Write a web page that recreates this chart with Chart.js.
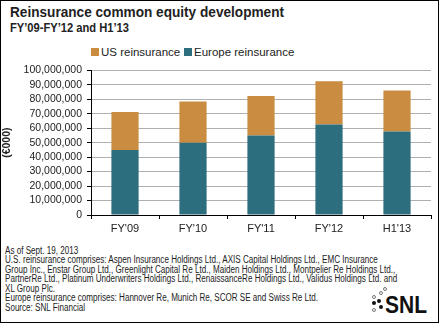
<!DOCTYPE html>
<html><head><meta charset="utf-8">
<script src="https://cdn.jsdelivr.net/npm/chart.js@4.4.0/dist/chart.umd.min.js"></script>
<style>
html,body{margin:0;padding:0;background:#fff;}
#frame{position:relative;width:439px;height:323px;box-sizing:border-box;border:1px solid #000;overflow:hidden;font-family:"Liberation Sans",Arial,sans-serif;}
#title{position:absolute;left:9px;top:2px;font:bold 15.5px "Liberation Sans",Arial,sans-serif;color:#222;white-space:nowrap;transform-origin:0 0;}
#sub{position:absolute;left:9px;top:20px;font:bold 12px "Liberation Sans",Arial,sans-serif;color:#222;white-space:nowrap;transform-origin:0 0;}
#legend{position:absolute;top:45px;left:90px;font:11.5px "Liberation Sans",Arial,sans-serif;color:#222;white-space:nowrap;}
#legend span.sw{display:inline-block;width:8px;height:8px;margin-right:2px;vertical-align:0px;}
#legend span.item{position:absolute;top:0;}
#cwrap{position:absolute;left:0;top:58px;width:439px;height:180px;}
.note{position:absolute;left:4px;font-family:"Liberation Sans",Arial,sans-serif;font-size:10px;line-height:10px;height:10px;color:#222;white-space:nowrap;transform-origin:0 0;}
#snl{position:absolute;left:384px;top:292px;font:bold 24px/24px "Liberation Sans",Arial,sans-serif;color:#111;white-space:nowrap;transform-origin:0 0;}
.d{position:absolute;width:4px;height:4px;border-radius:50%;box-sizing:border-box;}
.f{background:#111;}
.h{border:1px solid #777;background:#fff;}
</style></head>
<body>
<div id="frame">
  <div id="title">Reinsurance common equity development</div>
  <div id="sub">FY’09-FY’12 and H1’13</div>
  <div id="legend"></div>
  <div id="cwrap"><canvas id="c" width="439" height="180"></canvas></div>
  <div class="note">As of Sept. 19, 2013</div>
  <div class="note">U.S. reinsurance comprises: Aspen Insurance Holdings Ltd., AXIS Capital Holdings Ltd., EMC Insurance</div>
  <div class="note">Group Inc., Enstar Group Ltd., Greenlight Capital Re Ltd., Maiden Holdings Ltd., Montpelier Re Holdings Ltd.,</div>
  <div class="note">PartnerRe Ltd., Platinum Underwriters Holdings Ltd., RenaissanceRe Holdings Ltd., Validus Holdings Ltd. and</div>
  <div class="note">XL Group Plc.</div>
  <div class="note">Europe reinsurance comprises: Hannover Re, Munich Re, SCOR SE and Swiss Re Ltd.</div>
  <div class="note">Source: SNL Financial</div>
  <span class="d h" style="left:382px;top:286px"></span>
  <span class="d h" style="left:378px;top:290px"></span>
  <span class="d h" style="left:371px;top:294px"></span>
  <span class="d f" style="left:376px;top:298px"></span>
  <span class="d f" style="left:371px;top:300px"></span>
  <span class="d f" style="left:378px;top:304px"></span>
  <span class="d h" style="left:371px;top:307px"></span>
  <div id="snl">SNL</div>
</div>
<script>
const categories = ["FY'09", "FY'10", "FY'11", "FY'12", "H1'13"];
const europeReinsurance = [45000000, 49900000, 55000000, 62600000, 57700000];
const usReinsurance = [26100000, 28600000, 27300000, 29800000, 28400000];
const seriesNames = ["US reinsurance", "Europe reinsurance"];
const yTickMax = 100000000;
const yTickStep = 10000000;

const colUS = '#C98C40';
const colEU = '#2D6E7E';

function textWidth(el) {
  const r = document.createRange(); r.selectNodeContents(el);
  return r.getBoundingClientRect().width;
}
function fitWidth(el, target) {
  el.style.transform = 'scaleX(' + (target / textWidth(el)) + ')';
}
fitWidth(document.getElementById('title'), 274);
fitWidth(document.getElementById('sub'), 119);
fitWidth(document.getElementById('snl'), 42);

const notes = Array.from(document.querySelectorAll('.note'));
const targets = [93, 384, 433, 429, 50, 335, 88];
let sc = 10;
notes.forEach((n, i) => { sc = Math.min(sc, targets[i] / textWidth(n)); });
notes.forEach((n, i) => {
  n.style.top = (244.5 + i * 9.55) + 'px';
  n.style.transform = 'scaleX(' + sc + ')';
});

const lg = document.getElementById('legend');
[[seriesNames[0], colUS, 0], [seriesNames[1], colEU, 93]].forEach(([n, c, x]) => {
  const s = document.createElement('span');
  s.className = 'item';
  s.style.left = x + 'px';
  s.innerHTML = '<span class="sw" style="background:' + c + '"></span>' + n;
  lg.appendChild(s);
});

const tickFont = {family: '"Liberation Sans", Arial, sans-serif', size: 10.5};
new Chart(document.getElementById('c'), {
  type: 'bar',
  data: {
    labels: categories,
    datasets: [
      {label: seriesNames[1], data: europeReinsurance, backgroundColor: colEU, categoryPercentage: 1, barPercentage: 0.4},
      {label: seriesNames[0], data: usReinsurance, backgroundColor: colUS, categoryPercentage: 1, barPercentage: 0.4}
    ]
  },
  options: {
    responsive: false,
    animation: false,
    devicePixelRatio: 1,
    layout: {padding: {top: 7, right: 9, left: 0, bottom: 0}},
    plugins: {legend: {display: false}, tooltip: {enabled: false}},
    scales: {
      x: {
        stacked: true,
        offset: true,
        grid: {offset: true, drawOnChartArea: false, tickLength: 4, tickColor: '#000'},
        border: {color: '#000', width: 1},
        ticks: {font: {family: '"Liberation Sans", Arial, sans-serif', size: 11}, color: '#222', padding: 3, maxRotation: 0},
        afterFit: s => { s.height = 24; }
      },
      y: {
        stacked: true,
        min: 0, max: yTickMax,
        grid: {color: '#b0b0b0', tickColor: '#000', tickLength: 4, lineWidth: 1},
        border: {color: '#000', width: 1},
        ticks: {
          stepSize: yTickStep, autoSkip: false, font: tickFont, color: '#222', padding: 5,
          callback: v => v.toLocaleString('en-US')
        },
        title: {display: true, text: '(€000)', font: {family: '"Liberation Sans", Arial, sans-serif', size: 10.5, weight: 'bold'}, color: '#222', padding: {top: 0, bottom: 0}},
        afterFit: s => { s.width = 90; }
      }
    }
  }
});
</script>
</body></html>
